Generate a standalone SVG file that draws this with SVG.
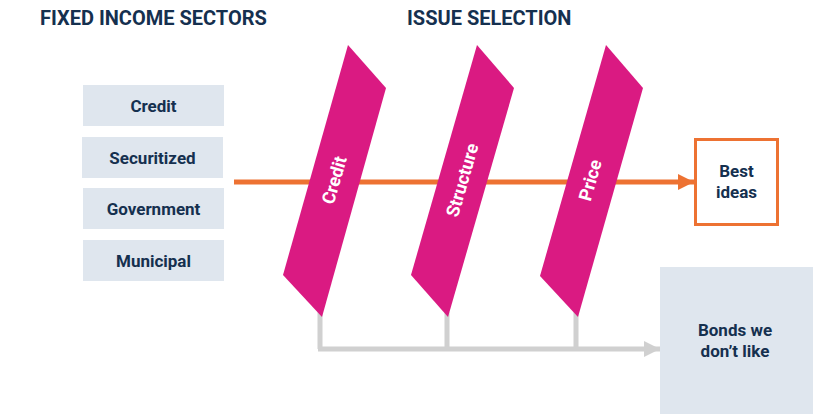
<svg xmlns="http://www.w3.org/2000/svg" width="813" height="414" viewBox="0 0 813 414">
<defs>
<style>
.t{font-family:Roboto,"Liberation Sans",sans-serif;font-weight:700;fill:#15304f;text-anchor:middle}
.title{font-size:20px;text-anchor:start}
.lbl{font-size:17px}
.sect{fill:#dfe6ee}
.blade{fill:#da1a82}
.bl{font-family:Roboto,"Liberation Sans",sans-serif;font-weight:700;font-size:18px;fill:#ffffff;text-anchor:middle}
.gray{stroke:#d0d0d0;stroke-width:5;fill:none}
</style>
<marker id="ao" viewBox="0 0 10 10" refX="10" refY="5" markerWidth="16" markerHeight="16" markerUnits="userSpaceOnUse" orient="auto"><path d="M0,0L10,5L0,10z" fill="#ed7232"/></marker>
<marker id="ag" viewBox="0 0 10 10" refX="10" refY="5" markerWidth="16" markerHeight="16" markerUnits="userSpaceOnUse" orient="auto"><path d="M0,0L10,5L0,10z" fill="#d0d0d0"/></marker>
</defs>
<rect width="813" height="414" fill="#ffffff"/>
<text class="t title" x="40" y="25">FIXED INCOME SECTORS</text>
<text class="t title" x="407" y="25">ISSUE SELECTION</text>
<g id="sectors">
<g id="s-credit"><rect class="sect" x="83" y="85" width="141" height="41"/><text class="t lbl" x="153.5" y="111.5">Credit</text></g>
<g id="s-securitized"><rect class="sect" x="82" y="137" width="141" height="41"/><text class="t lbl" x="152.5" y="163.5">Securitized</text></g>
<g id="s-government"><rect class="sect" x="83" y="188" width="141" height="41"/><text class="t lbl" x="153.5" y="214.5">Government</text></g>
<g id="s-municipal"><rect class="sect" x="83" y="240" width="141" height="41"/><text class="t lbl" x="153.5" y="266.5">Municipal</text></g>
</g>
<g id="connectors">
<line x1="234" y1="182" x2="694" y2="182" stroke="#ed7232" stroke-width="5" marker-end="url(#ao)"/>
<path class="gray" d="M320,312V349M447,312V349M576,312V349M318,349H660" marker-end="url(#ag)"/>
</g>
<g id="f-credit"><polygon class="blade" points="348,45 386,88 322,317 283,275"/><text class="bl" transform="translate(334,180) rotate(-74)" y="6.5">Credit</text></g>
<g id="f-structure"><polygon class="blade" points="477,45 514,88 448,317 411,275"/><text class="bl" transform="translate(462,180) rotate(-74)" y="6.5">Structure</text></g>
<g id="f-price"><polygon class="blade" points="606,45 643,88 578,317 540,276"/><text class="bl" transform="translate(590,180) rotate(-74)" y="6.5">Price</text></g>
<g id="best"><rect x="695.5" y="139.5" width="82" height="85" fill="#ffffff" stroke="#ed7232" stroke-width="3"/><text class="t lbl" x="736.5" y="177">Best</text><text class="t lbl" x="736.5" y="198">ideas</text></g>
<g id="bonds"><rect class="sect" x="660" y="267" width="153" height="147"/><text class="t lbl" x="735" y="336">Bonds we</text><text class="t lbl" x="735" y="357">don’t like</text></g>
</svg>
